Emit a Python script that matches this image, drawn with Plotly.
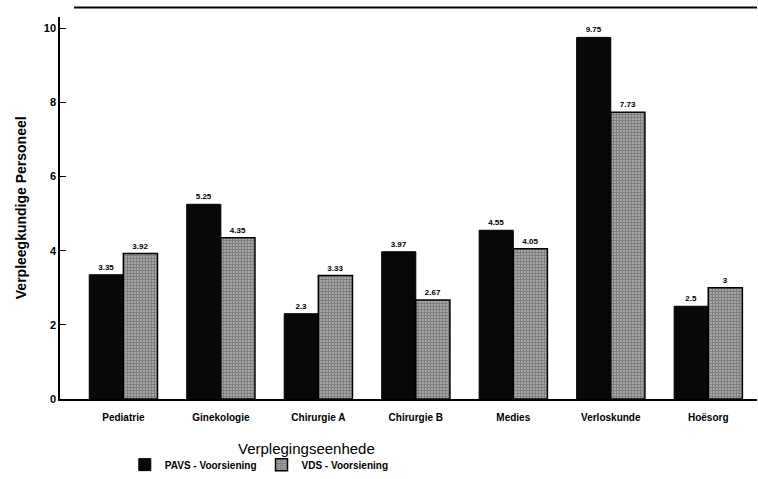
import plotly.graph_objects as go

# Nursing units and staffing figures
eenhede = ["Pediatrie", "Ginekologie", "Chirurgie A", "Chirurgie B", "Medies", "Verloskunde", "Hoësorg"]
pavs = [3.35, 5.25, 2.3, 3.97, 4.55, 9.75, 2.5]
vds = [3.92, 4.35, 3.33, 2.67, 4.05, 7.73, 3]
pavs_labels = ["3.35", "5.25", "2.3", "3.97", "4.55", "9.75", "2.5"]
vds_labels = ["3.92", "4.35", "3.33", "2.67", "4.05", "7.73", "3"]
y_ticks = [0, 2, 4, 6, 8, 10]

FONT = "Liberation Sans, Arial, sans-serif"

fig = go.Figure()
fig.add_trace(go.Bar(
    x=eenhede, y=pavs, name="PAVS - Voorsiening",
    marker=dict(color="#080808", line=dict(color="#000", width=1)),
    text=pavs_labels, textposition="outside", cliponaxis=False,
    textfont=dict(family=FONT, size=8, color="#000", weight=700),
))
fig.add_trace(go.Bar(
    x=eenhede, y=vds, name="VDS - Voorsiening",
    marker=dict(color="white", line=dict(color="#000", width=1.5),
                pattern=dict(shape=".", fgcolor="#000", bgcolor="white",
                             size=3, solidity=0.8)),
    text=vds_labels, textposition="outside", cliponaxis=False,
    textfont=dict(family=FONT, size=8, color="#000", weight=700),
))

fig.update_layout(
    width=758, height=479,
    margin=dict(l=60, r=1, t=17, b=80),
    paper_bgcolor="white", plot_bgcolor="white",
    barmode="group", bargap=0.3, bargroupgap=0,
    font=dict(family=FONT, color="#000"),
    showlegend=True,
    legend=dict(orientation="h", x=0.093, xanchor="left",
                yref="container", y=0.03, yanchor="middle",
                font=dict(family=FONT, size=10, weight=700), itemwidth=30,
                traceorder="normal"),
    xaxis=dict(range=[-0.65, 6.5], showline=True, linecolor="#000", linewidth=2,
               ticks="", ticklabelstandoff=8, automargin=False,
               tickfont=dict(family=FONT, size=10, weight=700),
               showgrid=False),
    yaxis=dict(range=[0, 10.3], tickvals=y_ticks, showline=True, linecolor="#000",
               linewidth=1.5, ticks="inside", ticklen=6, tickcolor="#000",
               tickfont=dict(family=FONT, size=11, weight=700), showgrid=False,
               zeroline=False, automargin=False),
    annotations=[
        dict(text="Verpleegkundige Personeel", xref="paper", yref="paper",
             x=-0.07, y=0.5, textangle=-90, showarrow=False,
             font=dict(family=FONT, size=14, weight=700)),
        dict(text="Verplegingseenhede", xref="paper", yref="paper",
             x=0.354, y=-0.125, yshift=-12, showarrow=False,
             font=dict(family=FONT, size=15)),
    ],
    shapes=[
        dict(type="line", xref="paper", yref="paper", x0=0.02, x1=1.0, y0=1.025, y1=1.025,
             line=dict(color="#000", width=2)),
    ],
)

fig.write_html("out.html")
